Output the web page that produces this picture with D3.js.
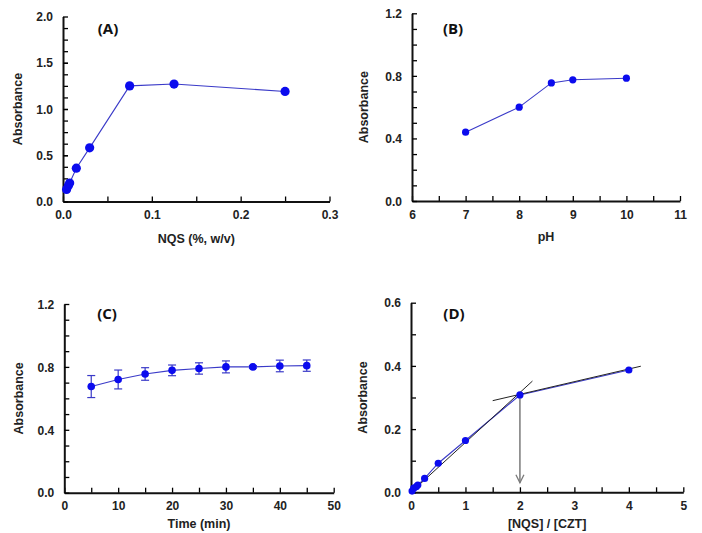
<!DOCTYPE html>
<html>
<head>
<meta charset="utf-8">
<script src="https://cdn.jsdelivr.net/npm/d3@7"></script>
<style>
body { margin: 0; background: #fff; }
svg text { font-family: "Liberation Sans", Arial, sans-serif; font-weight: bold; }
</style>
</head>
<body>
<svg id="chart" width="702" height="533"></svg>
<script>
// (A) NQS concentration
var nqsX = [0.004, 0.006, 0.0075, 0.015, 0.03, 0.075, 0.125, 0.25];
var nqsY = [0.13, 0.17, 0.20, 0.36, 0.58, 1.25, 1.27, 1.19];
// (B) pH
var phX = [7, 8, 8.6, 9, 10];
var phY = [0.44, 0.60, 0.755, 0.775, 0.785];
// (C) time
var timeX = [5, 10, 15, 20, 25, 30, 35, 40, 45];
var timeY = [0.675, 0.72, 0.755, 0.778, 0.79, 0.80, 0.80, 0.806, 0.808];
var timeErr = [0.07, 0.06, 0.04, 0.034, 0.036, 0.038, 0.008, 0.037, 0.036];
// (D) mole ratio
var ratioX = [0.02, 0.05, 0.1, 0.125, 0.25, 0.5, 1, 2, 4];
var ratioY = [0.004, 0.013, 0.018, 0.023, 0.044, 0.092, 0.164, 0.308, 0.387];
var fit1 = [[0, 0], [2.23, 0.352]];
var fit2 = [[1.5, 0.29], [4.22, 0.399]];
var arrowX = 2, arrowFrom = 0.308, arrowTo = 0.03;

var svg = d3.select('#chart');
var lineColor = '#3a3ac8';
var dotColor = '#0b0bee';

function panel(o) {
    var x = d3.scaleLinear().domain(o.xd).range(o.xr);
    var y = d3.scaleLinear().domain(o.yd).range(o.yr);
    var g = svg.append('g');

    // minor ticks
    g.append('g')
        .attr('transform', 'translate(0,' + o.yr[0] + ')')
        .call(d3.axisBottom(x).tickValues(o.xMinor).tickFormat('').tickSizeInner(-5).tickSizeOuter(0))
        .call(a => a.select('.domain').remove())
        .selectAll('line').attr('stroke-width', 1.3);
    g.append('g')
        .attr('transform', 'translate(' + o.xr[0] + ',0)')
        .call(d3.axisLeft(y).tickValues(o.yMinor).tickFormat('').tickSizeInner(-5).tickSizeOuter(0))
        .call(a => a.select('.domain').remove())
        .selectAll('line').attr('stroke-width', 1.3);

    var xa = g.append('g')
        .attr('transform', 'translate(0,' + o.yr[0] + ')')
        .call(d3.axisBottom(x).tickValues(o.xTicks).tickFormat(o.xFmt).tickSizeInner(-5).tickSizeOuter(0).tickPadding(9));
    var ya = g.append('g')
        .attr('transform', 'translate(' + o.xr[0] + ',0)')
        .call(d3.axisLeft(y).tickValues(o.yTicks).tickFormat(o.yFmt).tickSizeInner(-5).tickSizeOuter(0).tickPadding(10));
    [xa, ya].forEach(a => {
        a.select('.domain').attr('stroke-width', 2).attr('stroke', '#111');
        a.selectAll('line').attr('stroke-width', 1.3);
        a.selectAll('text').style('font-size', '12px').attr('fill', '#222');
    });
    ya.selectAll('text').attr('dy', '0.35em');

    g.append('text')
        .attr('transform', 'translate(' + o.ylx + ',' + (o.yr[0] + o.yr[1]) / 2 + ') rotate(-90)')
        .attr('text-anchor', 'middle')
        .attr('dy', '0.35em')
        .style('font-size', '12.5px')
        .attr('fill', '#222')
        .text('Absorbance');
    g.append('text')
        .attr('x', (o.xr[0] + o.xr[1]) / 2)
        .attr('y', o.xly)
        .attr('text-anchor', 'middle')
        .attr('dy', '0.35em')
        .style('font-size', '12.5px')
        .attr('fill', '#222')
        .text(o.xlabel);
    g.append('text')
        .attr('x', o.tag[0])
        .attr('y', o.tag[1])
        .attr('text-anchor', 'middle')
        .attr('dy', '0.35em')
        .style('font-family', '"Open Sans", sans-serif')
        .style('font-size', '15px')
        .attr('fill', '#111')
        .text(o.tagText);
    return { x: x, y: y, g: g };
}

function series(p, xs, ys) {
    var pts = xs.map((d, i) => [d, ys[i]]);
    p.g.append('path')
        .attr('d', d3.line().x(d => p.x(d[0])).y(d => p.y(d[1]))(pts))
        .attr('fill', 'none')
        .attr('stroke', lineColor)
        .attr('stroke-width', 1.1);
    return pts;
}
function dots(p, pts, r) {
    p.g.selectAll('.dot')
        .data(pts)
        .enter().append('circle')
        .attr('cx', d => p.x(d[0]))
        .attr('cy', d => p.y(d[1]))
        .attr('r', r)
        .attr('fill', dotColor);
}

var f1 = d3.format('.1f');

// (A)
var pA = panel({
    xd: [0, 0.3], xr: [63, 329.5], yd: [0, 2], yr: [201.5, 16.5],
    xTicks: [0, 0.1, 0.2, 0.3], xFmt: f1, xMinor: [0.05, 0.15, 0.25],
    yTicks: [0, 0.5, 1, 1.5, 2], yFmt: f1, yMinor: d3.range(1, 16).map(i => i * 0.125),
    ylx: 18, xly: 239, xlabel: 'NQS (%, w/v)', tag: [108, 29], tagText: '(A)'
});
dots(pA, series(pA, nqsX, nqsY), 4.6);

// (B)
var pB = panel({
    xd: [6, 11], xr: [412, 680], yd: [0, 1.2], yr: [201, 13.3],
    xTicks: [6, 7, 8, 9, 10, 11], xFmt: d3.format('d'), xMinor: [6.5, 7.5, 8.5, 9.5, 10.5],
    yTicks: [0, 0.4, 0.8, 1.2], yFmt: f1, yMinor: [0.1, 0.2, 0.3, 0.5, 0.6, 0.7, 0.9, 1.0, 1.1],
    ylx: 364, xly: 237, xlabel: 'pH', tag: [453, 29], tagText: '(B)'
});
dots(pB, series(pB, phX, phY), 3.6);

// (C)
var pC = panel({
    xd: [0, 50], xr: [64.3, 333.7], yd: [0, 1.2], yr: [492.7, 304],
    xTicks: [0, 10, 20, 30, 40, 50], xFmt: d3.format('d'), xMinor: [5, 15, 25, 35, 45],
    yTicks: [0, 0.4, 0.8, 1.2], yFmt: f1, yMinor: [0.1, 0.2, 0.3, 0.5, 0.6, 0.7, 0.9, 1.0, 1.1],
    ylx: 19, xly: 524, xlabel: 'Time (min)', tag: [107, 314], tagText: '(C)'
});
var ptsC = series(pC, timeX, timeY);
var eb = pC.g.selectAll('.eb')
    .data(timeX.map((d, i) => ({ x: d, y: timeY[i], e: timeErr[i] })))
    .enter().append('g')
    .attr('stroke', lineColor)
    .attr('stroke-width', 1.2);
eb.append('line')
    .attr('x1', d => pC.x(d.x)).attr('x2', d => pC.x(d.x))
    .attr('y1', d => pC.y(d.y - d.e)).attr('y2', d => pC.y(d.y + d.e));
eb.append('line')
    .attr('x1', d => pC.x(d.x) - 4).attr('x2', d => pC.x(d.x) + 4)
    .attr('y1', d => pC.y(d.y + d.e)).attr('y2', d => pC.y(d.y + d.e));
eb.append('line')
    .attr('x1', d => pC.x(d.x) - 4).attr('x2', d => pC.x(d.x) + 4)
    .attr('y1', d => pC.y(d.y - d.e)).attr('y2', d => pC.y(d.y - d.e));
dots(pC, ptsC, 3.8);

// (D)
var pD = panel({
    xd: [0, 5], xr: [411, 683.3], yd: [0, 0.6], yr: [492.3, 302.7],
    xTicks: [0, 1, 2, 3, 4, 5], xFmt: d3.format('d'), xMinor: [0.5, 1.5, 2.5, 3.5, 4.5],
    yTicks: [0, 0.2, 0.4, 0.6], yFmt: f1, yMinor: [0.1, 0.3, 0.5],
    ylx: 363, xly: 524, xlabel: '[NQS] / [CZT]', tag: [454, 314], tagText: '(D)'
});
var ptsD = series(pD, ratioX, ratioY);
[fit1, fit2].forEach(f => {
    pD.g.append('line')
        .attr('x1', pD.x(f[0][0])).attr('y1', pD.y(f[0][1]))
        .attr('x2', pD.x(f[1][0])).attr('y2', pD.y(f[1][1]))
        .attr('stroke', '#222')
        .attr('stroke-width', 1);
});
var ax = pD.x(arrowX), ay0 = pD.y(arrowFrom), ay1 = pD.y(arrowTo);
pD.g.append('line')
    .attr('x1', ax).attr('x2', ax).attr('y1', ay0).attr('y2', ay1)
    .attr('stroke', '#7a7a7a').attr('stroke-width', 1.5);
pD.g.append('path')
    .attr('d', 'M' + (ax - 4) + ',' + (ay1 - 8) + 'L' + ax + ',' + ay1 + 'L' + (ax + 4) + ',' + (ay1 - 8))
    .attr('fill', 'none')
    .attr('stroke', '#7a7a7a').attr('stroke-width', 1.3);
dots(pD, ptsD, 3.6);
</script>
</body>
</html>
